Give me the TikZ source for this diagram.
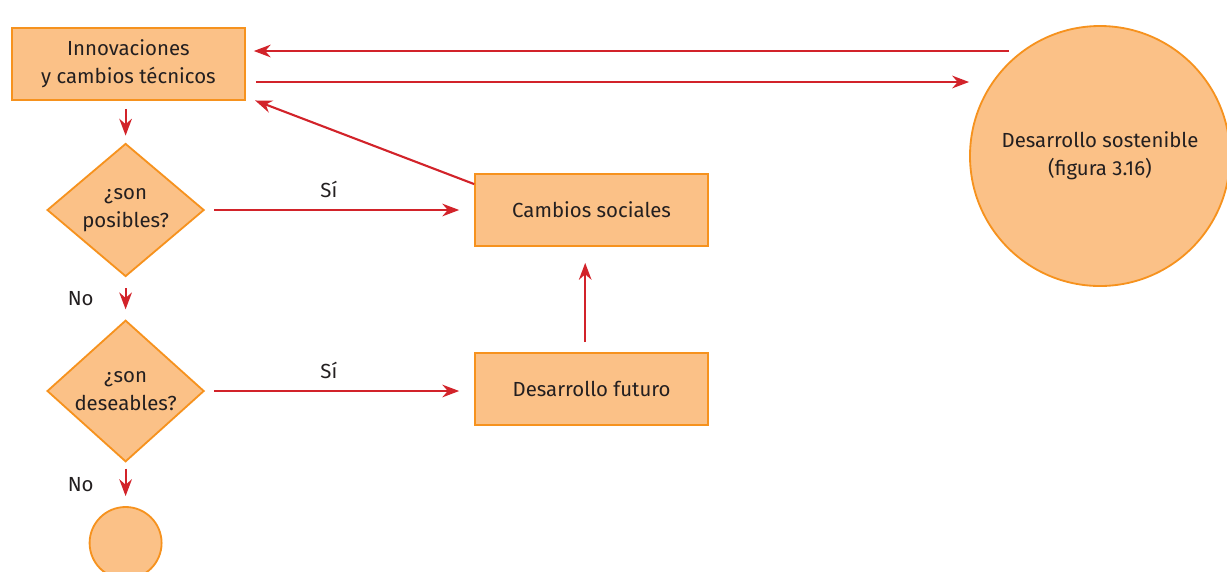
\documentclass[tikz,border=0pt]{standalone}
\usepackage{fontspec}
\setmainfont{Fira Sans}
\usepackage{tikz}
\usetikzlibrary{arrows.meta}
\usetikzlibrary{shapes.geometric}
\usetikzlibrary{calc}
\definecolor{naranja}{RGB}{251,193,135}
\definecolor{borde}{RGB}{246,146,30}
\definecolor{rojo}{RGB}{210,35,42}
\definecolor{texto}{RGB}{35,31,32}
\tikzset{basic/.style={draw=borde,fill=naranja,line width=1.3pt,text=texto,
                       text badly centered,align=center}}
\tikzset{caja/.style={basic,rectangle,minimum width=5.825cm,minimum height=1.8cm}}
\tikzset{rombo/.style={basic,diamond,inner sep=0pt,
                       minimum width=3.925cm,minimum height=3.325cm}}
\def\colsep{11.58}

\begin{document}
\begin{tikzpicture}[>={Stealth[length=12pt,width=9pt]},font=\fontsize{14.5}{20}\selectfont]
    \tikzstyle{flow}=[->,draw=rojo,line width=1.5pt]
    \tikzstyle{annot}=[text=texto,inner sep=2pt]

    \useasboundingbox (0,0) rectangle (30.675,-14.275);

    % Draw the boxes
    \node[caja] (innov) at (3.21,-1.6) {Innovaciones\\y cambios técnicos};
    \node[caja] (cambios) at (3.21+\colsep,-5.25) {Cambios sociales};
    \node[caja] (futuro) at (3.21+\colsep,-9.725) {Desarrollo futuro};

    % Draw the two questions
    \foreach \name / \y / \txt in {posibles/5.25/posibles?,deseables/9.775/deseables?}
        \node[rombo] (\name) at (3.14,-\y) {¿son\\\txt};

    % Draw the circles
    \node[basic,circle,minimum size=6.5cm] (sost) at (27.5,-3.9)
        {Desarrollo sostenible\\(figura 3.16)};
    \node[basic,circle,minimum size=1.8cm] (fin) at (3.14,-13.575) {};

    % Innovations and sustainable development
    \coordinate (t1) at ($(sost.west |- innov.east)+(1,0.325)$);
    \coordinate (t2) at ($(innov.east)+(0,-0.45)$);
    \draw[flow,shorten >=0.2cm] (t1) -- (t1 -| innov.east);
    \draw[flow,shorten <=0.25cm] (t2) -- (t2 -| sost.west);

    % Social changes go back to the innovations
    \draw[flow,shorten >=0.25cm] ([yshift=-0.275cm]cambios.north west)
        -- ([yshift=0.1cm]innov.south east);

    % Yes branches
    \foreach \src / \dst in {posibles/cambios,deseables/futuro}
        \draw[flow,shorten <=0.225cm,shorten >=0.375cm] (\src.east) -- (\src.east -| \dst.west)
            node[pos=0.46,above=6pt,annot] {Sí};

    % Down the questions
    \draw[flow,shorten <=0.2cm,shorten >=0.175cm] (posibles.north |- innov.south) -- (posibles.north);
    \draw[flow,shorten <=0.275cm,shorten >=0.25cm] (posibles.south) -- (deseables.north)
        node[midway,left=20pt,annot] {No};
    \draw[flow,shorten <=0.15cm,shorten >=0.25cm] (deseables.south) -- (fin.north)
        node[midway,left=20pt,annot] {No};

    % Future development leads to social changes
    \draw[flow,shorten <=0.25cm,shorten >=0.4cm] ([xshift=-0.16cm]futuro.north)
        -- ([xshift=-0.16cm]cambios.south);
\end{tikzpicture}
\end{document}
